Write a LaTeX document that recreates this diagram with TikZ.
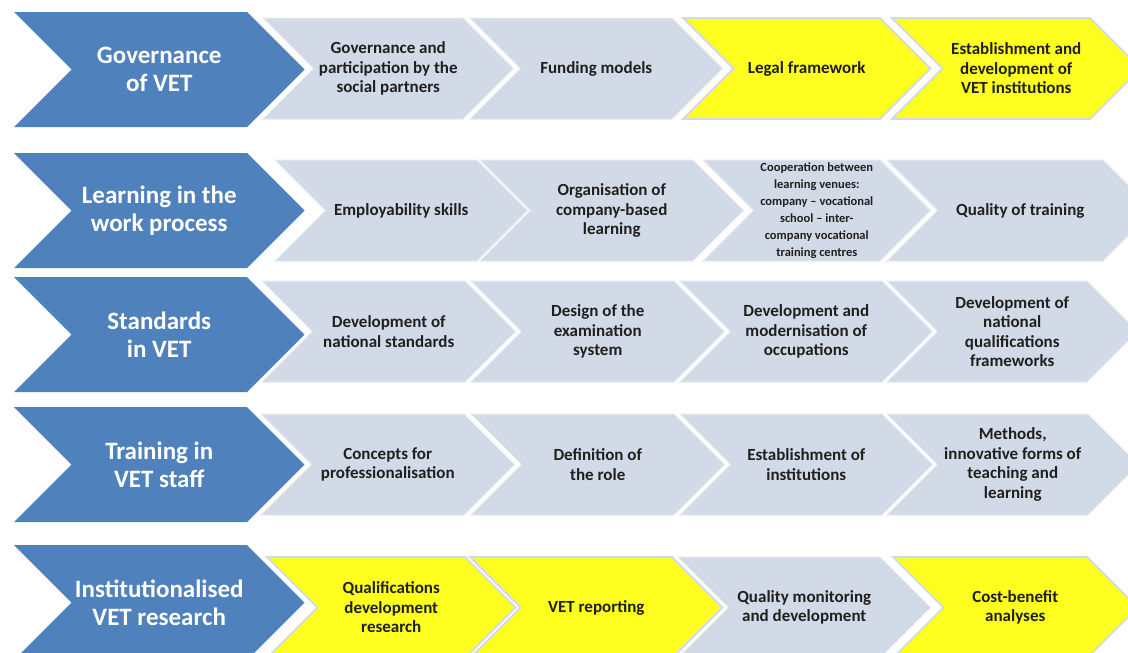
\documentclass[tikz,border=0pt]{standalone}
\usepackage{fontspec}
\setmainfont{Carlito}
\usepackage{xcolor}
\usepackage{tikz}

\definecolor{vetblue}{HTML}{4F81BD}
\definecolor{vetgray}{HTML}{D3DAE7}
\definecolor{vetyellow}{HTML}{FFFF1F}

% chevron: name, shape style, text style, left x, top y, top width, height, text
\newcommand{\chev}[8]{%
  \path[#2] (#4,#5) -- ++(#6,0) -- ++({#7/2},{#7/2}) -- ++({-#7/2},{#7/2})
    -- ++(-#6,0) -- ++({#7/2},{-#7/2}) -- cycle;
  \node[#3] (#1) at ({#4+#7/4+#6/2},{#5+#7/2}) {#8};
}

\begin{document}
\begin{tikzpicture}[
  x=1pt, y=-1pt,
  head/.style={fill=vetblue},
  item/.style={fill=vetgray, draw=vetgray!60!white, line width=1pt},
  highlight/.style={fill=vetyellow, draw=vetgray, line width=2pt},
  headtext/.style={align=center, inner sep=0pt, text=white,
                   font=\bfseries\fontsize{25}{28}\selectfont},
  itemtext/.style={align=center, inner sep=0pt, text=black!88,
                   font=\bfseries\fontsize{17}{19.5}\selectfont},
  smalltext/.style={itemtext, font=\bfseries\fontsize{12.5}{17}\selectfont}
]
\useasboundingbox (0,0) rectangle (1128,653);
\clip (0,0) rectangle (1128,653);

% Governance
\chev{gov0}{head}{headtext}{14}{12}{233}{115}{Governance\\of VET}
\chev{gov1}{item}{itemtext}{263}{18}{200}{101}{Governance and\\participation by the\\social partners}
\chev{gov2}{item}{itemtext}{470}{18}{202}{101}{Funding models}
\chev{gov3}{highlight}{itemtext}{683}{18}{197}{101}{Legal framework}
\chev{gov4}{highlight}{itemtext}{892}{18}{198}{101}{Establishment and\\development of\\VET institutions}

% Learning in the work process
\chev{lrn0}{head}{headtext}{14}{153}{233}{115}{Learning in the\\work process}
\chev{lrn1}{item}{itemtext}{275}{160}{202}{101}{Employability skills}
\chev{lrn2}{item}{itemtext}{480}{160}{213}{101}{Organisation of\\company-based\\learning}
\chev{lrn3}{item}{smalltext}{703}{160}{177}{101}{Cooperation between\\learning venues:\\company -- vocational\\school -- inter-\\company vocational\\training centres}
\chev{lrn4}{item}{itemtext}{887}{160}{216}{101}{Quality of training}

% Standards
\chev{std0}{head}{headtext}{14}{277}{233}{115}{Standards\\in VET}
\chev{std1}{item}{itemtext}{262}{281}{203}{101}{Development of\\national standards}
\chev{std2}{item}{itemtext}{471}{281}{203}{101}{Design of the\\examination\\system}
\chev{std3}{item}{itemtext}{680}{281}{202}{101}{Development and\\modernisation of\\occupations}
\chev{std4}{item}{itemtext}{887}{281}{200}{101}{Development of\\national\\qualifications\\frameworks}

% Training
\chev{trn0}{head}{headtext}{14}{407}{233}{115}{Training in\\VET staff}
\chev{trn1}{item}{itemtext}{261}{414}{203}{101}{Concepts for\\professionalisation}
\chev{trn2}{item}{itemtext}{471}{414}{203}{101}{Definition of\\the role}
\chev{trn3}{item}{itemtext}{680}{414}{202}{101}{Establishment of\\institutions}
\chev{trn4}{item}{itemtext}{887}{414}{201}{101}{Methods,\\innovative forms of\\teaching and\\learning}

% Research
\chev{res0}{head}{headtext}{14}{545}{233}{115}{Institutionalised\\VET research}
\chev{res1}{highlight}{itemtext}{267}{557}{198}{101}{Qualifications\\development\\research}
\chev{res2}{highlight}{itemtext}{470}{557}{202}{101}{VET reporting}
\chev{res3}{item}{itemtext}{678}{557}{202}{101}{Quality monitoring\\and development}
\chev{res4}{highlight}{itemtext}{893}{557}{194}{101}{Cost-benefit\\analyses}
\end{tikzpicture}
\end{document}
